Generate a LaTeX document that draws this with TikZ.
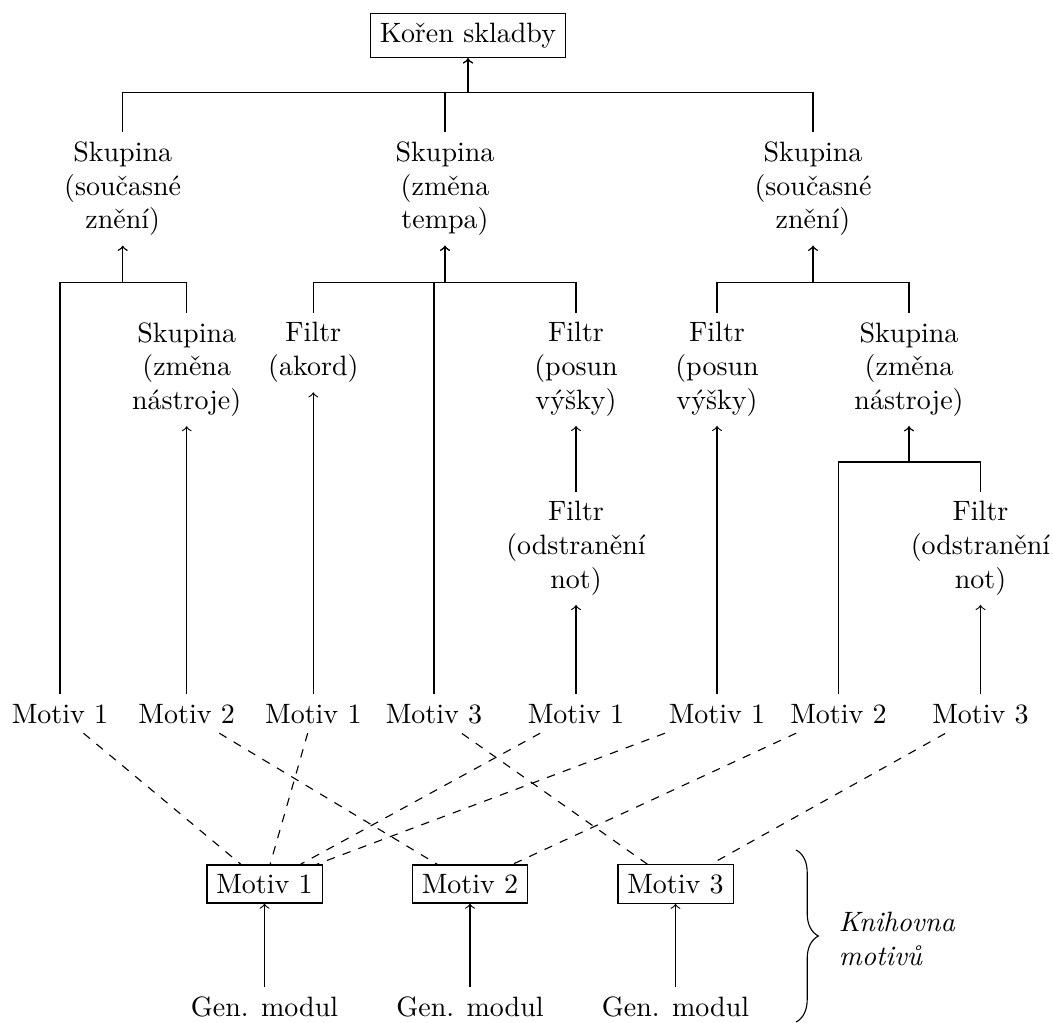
\documentclass[tikz,border=0pt]{standalone}
\usetikzlibrary{decorations.pathreplacing}
\begin{document}
\begin{tikzpicture}[x=0.35714pt, y=-0.35714pt,
  lbl/.style={align=center, anchor=north},
  leaf/.style={anchor=base},
  box/.style={draw},
  edge/.style={->},
  link/.style={dashed}]
\useasboundingbox (0,0) rectangle (1053,1022);

% root
\node[box, anchor=north] (root) at (468,13.3) {Kořen skladby};

% first level groups
\node[lbl] (sA) at (122.7,132) {Skupina\\(současné\\znění)};
\node[lbl] (sB) at (445,132) {Skupina\\(změna\\tempa)};
\node[lbl] (sC) at (813,132) {Skupina\\(současné\\znění)};

% second level
\node[lbl] (nasA) at (186.7,312.5) {Skupina\\(změna\\nástroje)};
\node[lbl] (akord) at (313.3,312.5) {Filtr\\(akord)};
\node[lbl] (posA) at (576,312.5) {Filtr\\(posun\\výšky)};
\node[lbl] (posB) at (717,312.5) {Filtr\\(posun\\výšky)};
\node[lbl] (nasB) at (909,312.5) {Skupina\\(změna\\nástroje)};

% third level
\node[lbl] (odA) at (576,491.5) {Filtr\\(odstranění\\not)};
\node[lbl] (odB) at (980.5,491.5) {Filtr\\(odstranění\\not)};

% motif instances
\node[leaf] (l1) at (60,723) {Motiv 1};
\node[leaf] (l2) at (186.7,723) {Motiv 2};
\node[leaf] (l3) at (313.3,723) {Motiv 1};
\node[leaf] (l4) at (434,723) {Motiv 3};
\node[leaf] (l5) at (576,723) {Motiv 1};
\node[leaf] (l6) at (717,723) {Motiv 1};
\node[leaf] (l7) at (838.5,723) {Motiv 2};
\node[leaf] (l8) at (980.5,723) {Motiv 3};

% motif library
\node[box] (m1) at (264.5,884) {Motiv 1};
\node[box] (m2) at (470,884) {Motiv 2};
\node[box] (m3) at (675.5,884) {Motiv 3};
\node[leaf] (g1) at (264.5,1016.5) {Gen. modul};
\node[leaf] (g2) at (470,1016.5) {Gen. modul};
\node[leaf] (g3) at (675.5,1016.5) {Gen. modul};

% fork levels
\coordinate (y0) at (0,92.7);
\coordinate (y1) at (0,282.3);
\coordinate (y2) at (0,462);
\coordinate (f0) at (root.south |- y0);
\coordinate (fA) at (sA.south |- y1);
\coordinate (fB) at (sB.south |- y1);
\coordinate (fC) at (sC.south |- y1);
\coordinate (fN) at (nasB.south |- y2);

% forked edges
\foreach \c in {sA,sB,sC} \draw[edge] (\c.north) |- (f0) -- (root.south);
\foreach \c in {l1,nasA} \draw[edge] (\c.north) |- (fA) -- (sA.south);
\foreach \c in {akord,l4,posA} \draw[edge] (\c.north) |- (fB) -- (sB.south);
\foreach \c in {posB,nasB} \draw[edge] (\c.north) |- (fC) -- (sC.south);
\foreach \c in {l7,odB} \draw[edge] (\c.north) |- (fN) -- (nasB.south);

% single edges
\draw[edge] (l2.north) -- (nasA.south);
\draw[edge] (l3.north) -- (akord.south);
\draw[edge] (odA.north) -- (posA.south);
\draw[edge] (l5.north) -- (odA.south);
\draw[edge] (l6.north) -- (posB.south);
\draw[edge] (l8.north) -- (odB.south);
\draw[edge] (g1.north) -- (m1.south);
\draw[edge] (g2.north) -- (m2.south);
\draw[edge] (g3.north) -- (m3.south);

% links to the library
\draw[link] (l1) -- (m1);
\draw[link] (l3) -- (m1);
\draw[link] (l5) -- (m1);
\draw[link] (l6) -- (m1);
\draw[link] (l2) -- (m2);
\draw[link] (l7) -- (m2);
\draw[link] (l4) -- (m3);
\draw[link] (l8) -- (m3);

% library brace
\coordinate (bt) at (796,850);
\coordinate (bb) at (796,1022);
\draw[decorate, decoration={brace, amplitude=8pt}] (bt) -- (bb);
\node[align=left, anchor=west, font=\itshape] (lib) at (829,939) {Knihovna\\motivů};
\end{tikzpicture}
\end{document}
